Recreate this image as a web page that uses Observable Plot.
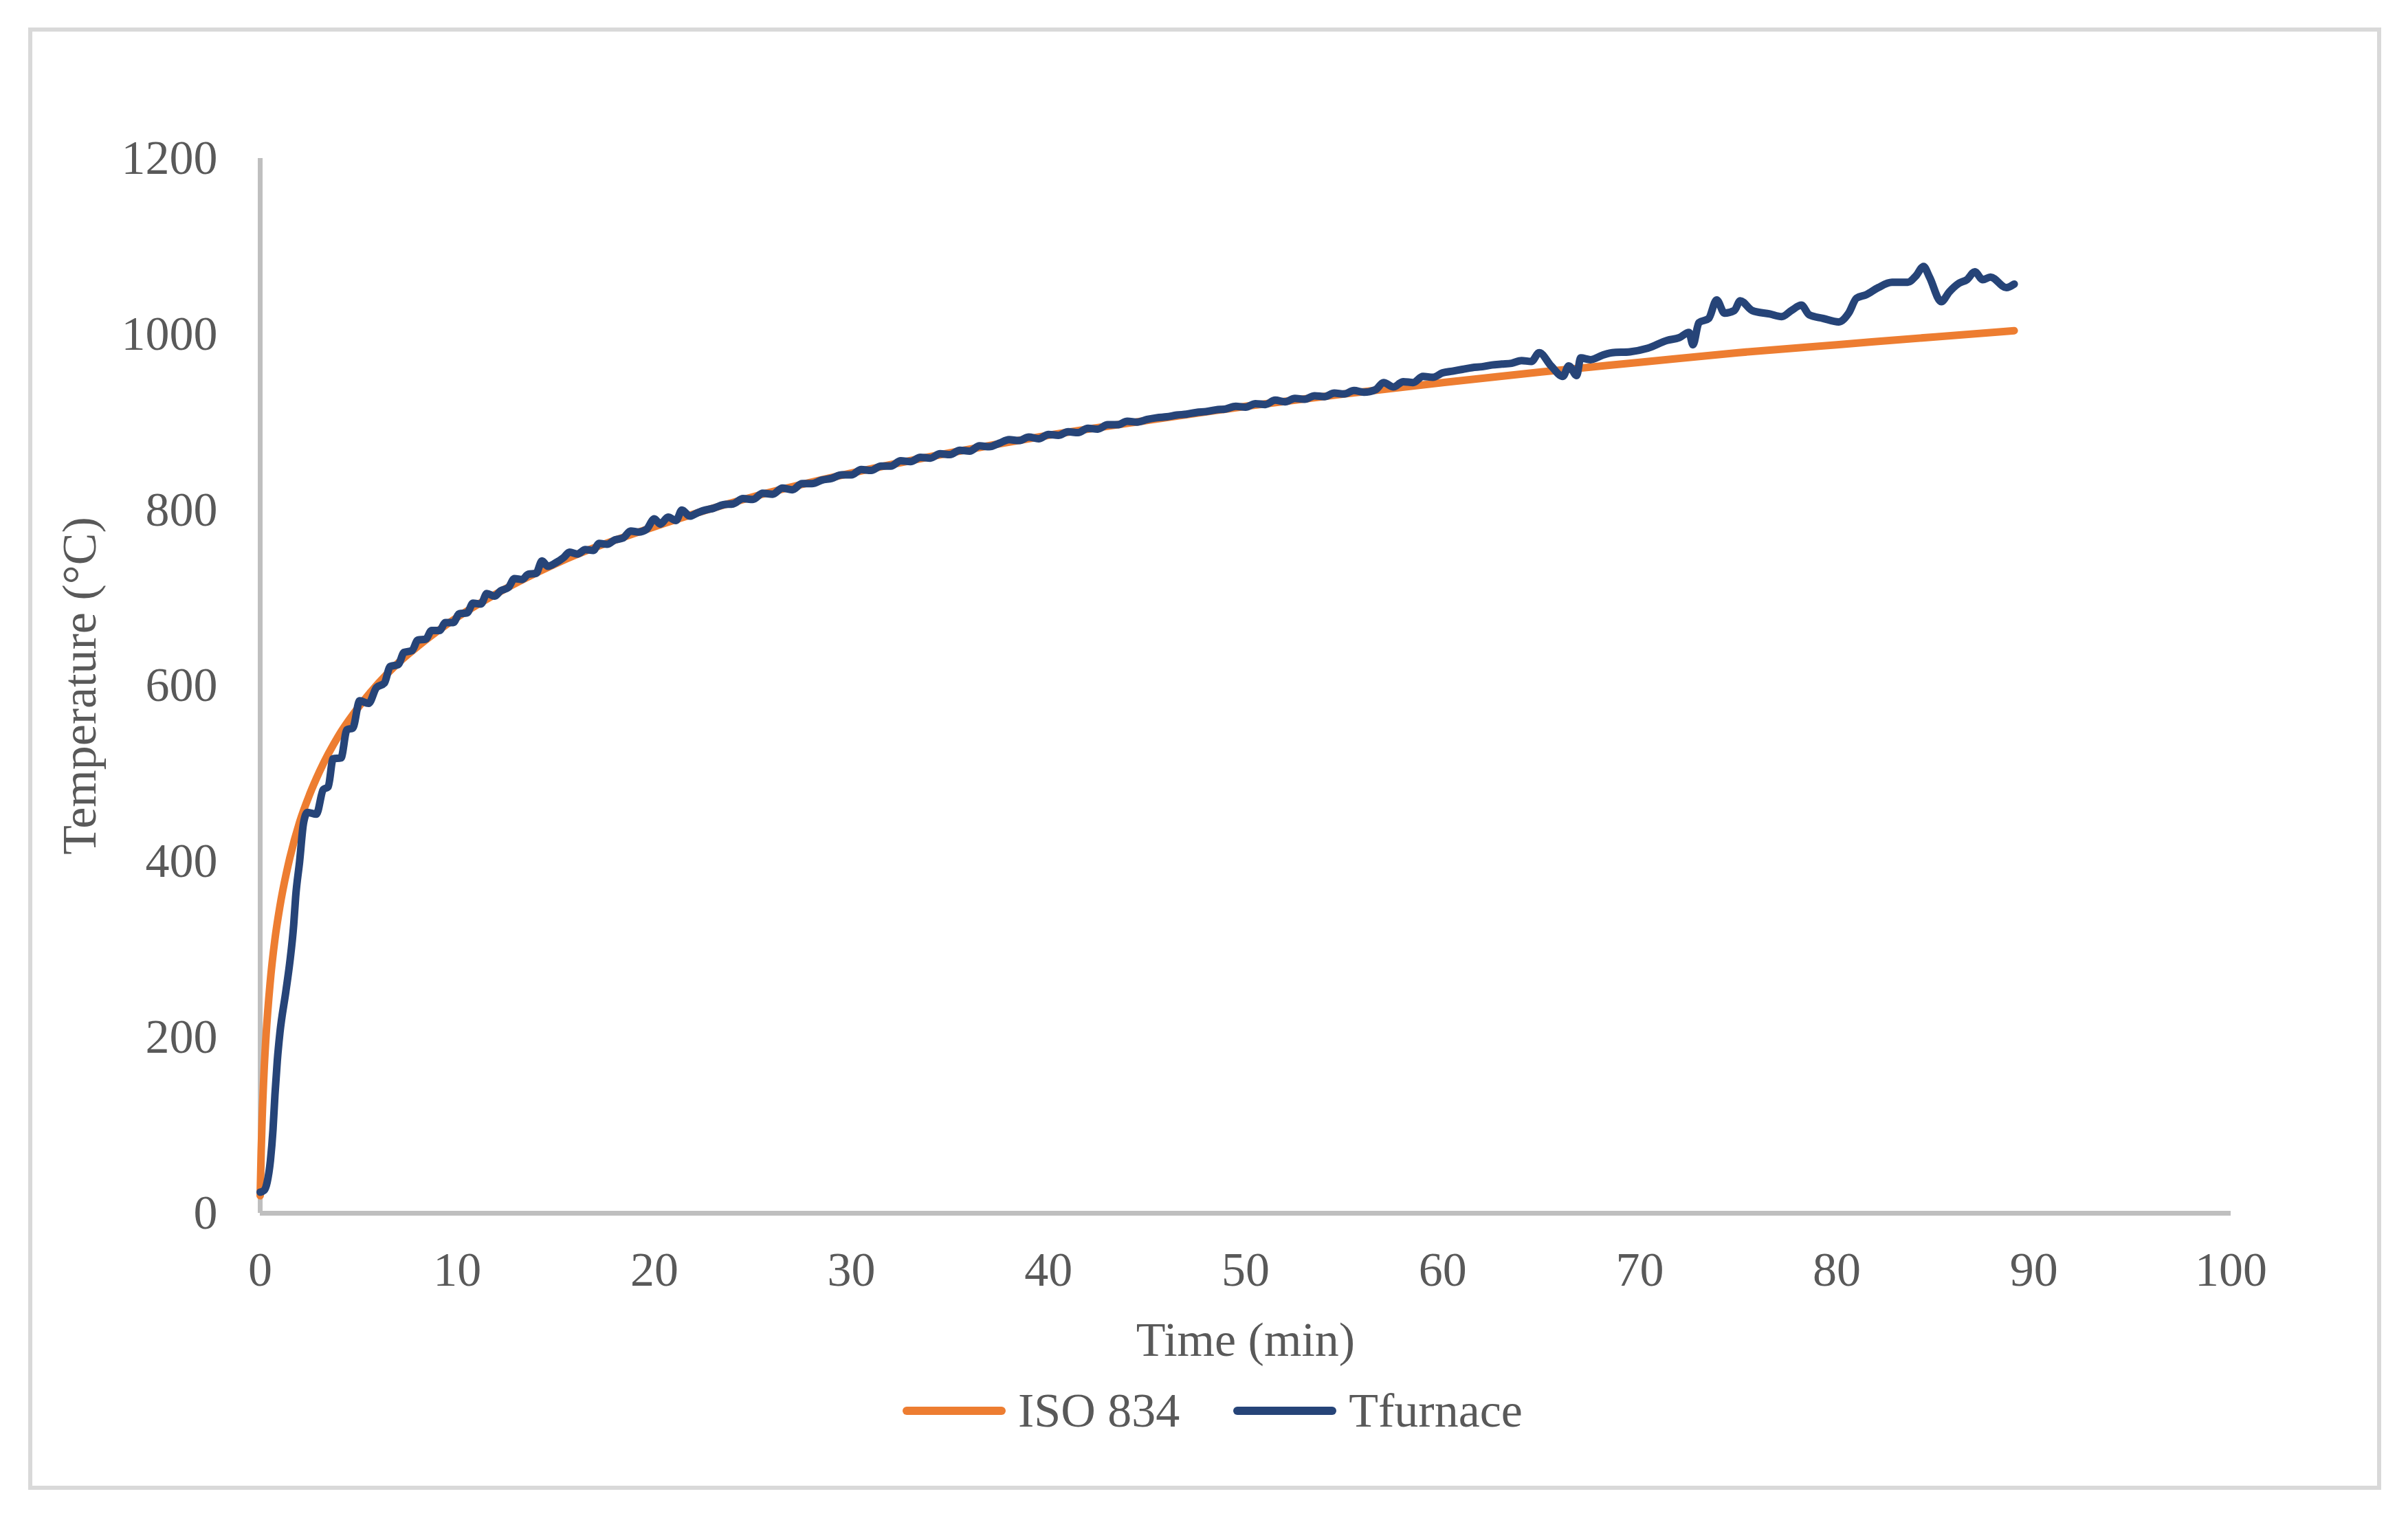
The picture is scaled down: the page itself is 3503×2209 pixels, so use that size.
<!DOCTYPE html>
<html>
<head>
<meta charset="utf-8">
<script src="https://cdn.jsdelivr.net/npm/d3@7"></script>
<script src="https://cdn.jsdelivr.net/npm/@observablehq/plot@0.6"></script>
<style>
  html, body { margin: 0; padding: 0; background: #ffffff; }
  #page { position: relative; width: 3503px; height: 2209px; overflow: hidden; background: #fff; }
  #frame { position: absolute; left: 41px; top: 40px; width: 3411px; height: 2116px; border: 6px solid #d9d9d9; }
  #chart { position: absolute; left: 0; top: 0; }
  #legend { position: absolute; left: 1313px; top: 2013px; height: 80px; display: flex; align-items: center;
            font-family: 'Liberation Serif', 'Times New Roman', serif; font-size: 70px; color: #595959; white-space: nowrap; }
  .sw { width: 150px; height: 12px; border-radius: 6px; }
  .lab { margin-left: 18px; }
</style>
</head>
<body>
<div id="page">
  <div id="frame"></div>
  <div id="chart"></div>
  <div id="legend">
    <div class="sw" style="background:#ED7D31"></div><span class="lab">ISO 834</span>
    <div class="sw" style="background:#264478; margin-left:78px"></div><span class="lab">Tfurnace</span>
  </div>
</div>
<script>
// ---- Data ----
const seriesNames = ["ISO 834", "Tfurnace"];
const seriesColors = ["#ED7D31", "#264478"];

const isoTime = [0, 0.05, 0.1, 0.2, 0.3, 0.5, 0.75, 1, 1.5, 2, 2.5, 3, 4, 5, 6, 7, 8, 10, 12, 15, 20, 25, 30, 35, 40, 45, 50, 55, 60, 65, 70, 75, 80, 85, 89];
const isoTemp = [20, 70, 108, 163, 203, 261, 312, 349, 404, 445, 476, 502, 544, 576, 603, 626, 645, 678, 705, 739, 781, 815, 842, 865, 885, 902, 918, 932, 945, 957, 968, 979, 988, 997, 1004];

const furnTime = [
  0, 0.2, 0.35, 0.52, 0.65, 0.75, 0.87, 1.0, 1.3, 1.5, 1.7, 1.8, 2.0, 2.2, 2.4, 2.85, 3.2, 3.45, 3.7, 4.1, 4.4, 4.7, 5.05, 5.5, 5.9,
  6.3, 6.6, 7.0, 7.3, 7.7, 8.0, 8.4, 8.7, 9.1, 9.4, 9.8, 10.1, 10.5, 10.8, 11.2, 11.5, 11.9, 12.2, 12.6, 12.9, 13.3, 13.6, 14.0, 14.3, 14.6,
  15.0, 15.4, 15.7, 16.1, 16.5, 16.9, 17.2, 17.6, 18.0, 18.4, 18.8, 19.2, 19.6, 20.0, 20.3, 20.7, 21.1, 21.4, 21.8, 22.2, 22.6, 23.0,
  23.5, 24, 24.5, 25, 25.5, 26, 26.5, 27, 27.5, 28, 28.5, 29, 29.5, 30, 30.5, 31, 31.5, 32, 32.5, 33, 33.5, 34, 34.5, 35, 35.5, 36,
  36.5, 37, 37.5, 38, 38.5, 39, 39.5, 40, 40.5, 41, 41.5, 42, 42.5, 43, 43.5, 44, 44.5, 45, 45.5, 46, 46.5, 47, 47.5, 48, 48.5, 49,
  49.5, 50, 50.5, 51, 51.5, 52, 52.5, 53, 53.5, 54, 54.5, 55, 55.5, 56, 56.6, 57.0, 57.5, 58, 58.5, 59, 59.5, 60, 60.5, 61, 61.5, 62,
  62.5, 63, 63.5, 64, 64.5, 64.9, 65.5, 66.1, 66.4, 66.8, 67.0, 67.5, 68.1, 68.6, 69.5, 70.4, 71.4, 72.0, 72.5, 72.7, 73.0, 73.5, 73.9,
  74.3, 74.8, 75.1, 75.7, 76.6, 77.2, 77.7, 78.2, 78.6, 79.3, 80.1, 80.6, 81.0, 81.5, 82.1, 82.8, 83.6, 84.0, 84.4, 84.7, 85.3, 85.7,
  86.2, 86.6, 87.0, 87.4, 87.8, 88.6, 89.0
];
const furnTemp = [
  24, 26, 35, 60, 95, 135, 174, 205, 252, 285, 328, 360, 400, 444, 456, 454, 482, 485, 517, 518, 550, 552, 583, 580, 598,
  603, 622, 624, 638, 640, 652, 653, 663, 663, 672, 672, 682, 683, 694, 693, 705, 702, 708, 712, 722, 721, 727, 728, 742, 736,
  740, 746, 752, 750, 755, 754, 762, 761, 766, 768, 776, 775, 778, 790, 784, 792, 788, 800, 793, 797, 800, 802,
  806, 807, 813, 812, 819, 818, 825, 823, 830, 830, 834, 836, 840, 840, 846, 845, 850, 850, 856, 855, 860, 859, 864, 863, 868, 867,
  873, 872, 876, 880, 879, 883, 881, 886, 885, 889, 888, 893, 892, 897, 897, 901, 900, 903, 905, 906, 908, 909, 911, 912, 914, 915,
  918, 917, 921, 920, 925, 923, 927, 926, 930, 929, 933, 932, 936, 934, 937, 945, 940, 946, 945, 952, 951, 956, 958, 960, 962, 963,
  965, 966, 967, 970, 969, 979, 964, 952, 964, 953, 973, 971, 976, 979, 980, 984, 993, 996, 1002, 988, 1013, 1018, 1039,
  1024, 1027, 1038, 1027, 1023, 1020, 1027, 1033, 1022, 1018, 1014, 1024, 1041, 1045, 1053, 1059, 1059, 1066, 1077, 1065, 1037, 1048,
  1058, 1062, 1071, 1062, 1065, 1053, 1057
];

const xTicks = [0, 10, 20, 30, 40, 50, 60, 70, 80, 90, 100];
const yTicks = [0, 200, 400, 600, 800, 1000, 1200];
const xTitle = "Time (min)";
const yTitle = "Temperature (°C)";

// ---- Build tables ----
const iso = isoTime.map((t, i) => ({t, v: isoTemp[i]}));
const furn = furnTime.map((t, i) => ({t, v: furnTemp[i]}));

const W = 3503, H = 2000;
const chart = Plot.plot({
  width: W,
  height: H,
  marginLeft: 378,
  marginRight: 258,
  marginTop: 230,
  marginBottom: H - 1765,
  style: {fontFamily: "'Liberation Serif', 'Times New Roman', serif", fontSize: "70px", color: "#595959", background: "transparent"},
  x: {domain: [0, 100]},
  y: {domain: [0, 1200]},
  marks: [
    Plot.axisX({ticks: xTicks, tickSize: 0, tickPadding: 56, tickFormat: d => String(d), label: null, fill: "#595959"}),
    Plot.axisY({ticks: yTicks, tickSize: 0, tickPadding: 62, tickFormat: d => String(d), label: null, fill: "#595959"}),
    Plot.ruleY([0], {stroke: "#bfbfbf", strokeWidth: 7}),
    Plot.ruleX([0], {stroke: "#bfbfbf", strokeWidth: 7}),
    Plot.line(iso, {x: "t", y: "v", stroke: seriesColors[0], strokeWidth: 11, curve: "monotone-x", strokeLinecap: "round", strokeLinejoin: "round"}),
    Plot.line(furn, {x: "t", y: "v", stroke: seriesColors[1], strokeWidth: 11, curve: "monotone-x", strokeLinecap: "round", strokeLinejoin: "round"}),
    Plot.text([xTitle], {text: d => d, frameAnchor: "bottom", dy: 185, fontSize: 70, fill: "#595959", lineAnchor: "middle"}),
    Plot.text([yTitle], {text: d => d, frameAnchor: "left", dx: -262, rotate: -90, fontSize: 70, fill: "#595959", lineAnchor: "middle", textAnchor: "middle"})
  ]
});
document.getElementById("chart").appendChild(chart);
</script>
</body>
</html>
